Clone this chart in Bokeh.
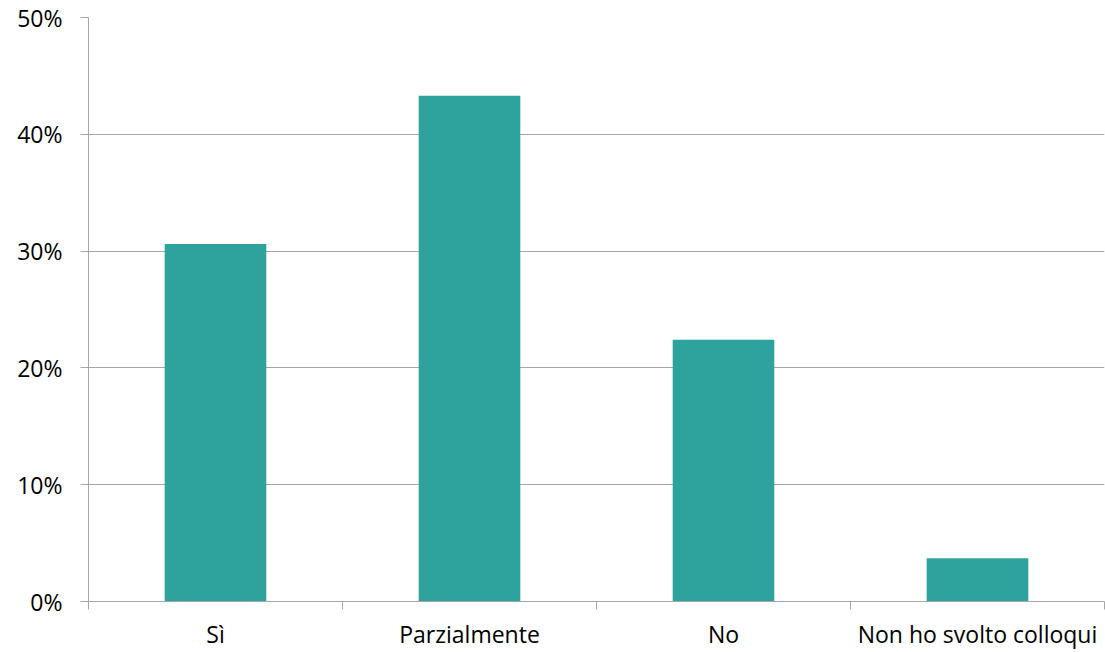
from bokeh.plotting import figure
from bokeh.models import FixedTicker, Range1d
from bokeh.embed import file_html
from bokeh.resources import INLINE

categories = ["Sì", "Parzialmente", "No", "Non ho svolto colloqui"]
values = [30.6, 43.3, 22.4, 3.7]
y_ticks = [0, 10, 20, 30, 40, 50]
y_tick_labels = ["0%", "10%", "20%", "30%", "40%", "50%"]

FONT = "Open Sans"
BAR = "#2EA39E"
GRID = "#A6A6A6"

n = len(categories)
centers = [i + 0.5 for i in range(n)]

p = figure(width=1105, height=652, output_backend="svg", toolbar_location=None,
           x_range=Range1d(0, n), y_range=Range1d(0, 50),
           min_border_left=88, min_border_right=1, min_border_top=17, min_border_bottom=51)
p.outline_line_color = None

p.vbar(x=centers, top=values, width=0.4, color=BAR, line_color=None)

# x axis
p.xaxis.ticker = FixedTicker(ticks=centers, minor_ticks=list(range(n + 1)))
p.xaxis.major_label_overrides = {c: lab for c, lab in zip(centers, categories)}
p.xaxis.major_tick_line_color = None
p.xaxis.minor_tick_in = 0
p.xaxis.minor_tick_out = 8
p.xaxis.minor_tick_line_color = GRID
p.xaxis.axis_line_color = GRID
p.xaxis.major_label_text_font = FONT
p.xaxis.major_label_text_font_size = "23px"
p.xaxis.major_label_text_color = "#000000"
p.xaxis.major_label_standoff = 8
p.xgrid.grid_line_color = None

# y axis
p.yaxis.ticker = FixedTicker(ticks=y_ticks)
p.yaxis.major_label_overrides = {t: lab for t, lab in zip(y_ticks, y_tick_labels)}
p.yaxis.major_tick_in = 0
p.yaxis.major_tick_out = 8
p.yaxis.major_tick_line_color = GRID
p.yaxis.minor_tick_line_color = None
p.yaxis.axis_line_color = GRID
p.yaxis.major_label_text_font = FONT
p.yaxis.major_label_text_font_size = "23px"
p.yaxis.major_label_text_color = "#000000"
p.yaxis.major_label_standoff = 18
p.ygrid.grid_line_color = GRID

open("out.html", "w").write(file_html(p, INLINE))
